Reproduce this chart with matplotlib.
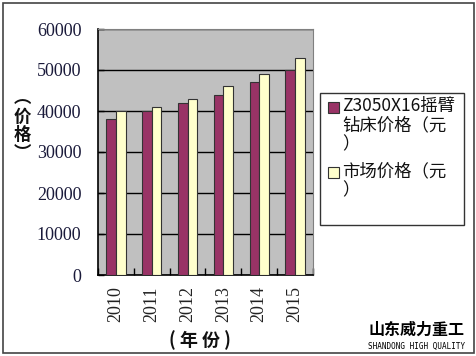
import matplotlib
matplotlib.use("Agg")
import matplotlib.pyplot as plt
import numpy as np
from matplotlib.patches import Rectangle

plt.rcParams['font.family'] = ['Noto Sans CJK SC', 'DejaVu Sans']

years = ['2010', '2011', '2012', '2013', '2014', '2015']
z3050_price = [38000, 40000, 42000, 44000, 47000, 50000]
market_price = [40000, 41000, 43000, 46000, 49000, 53000]
series_names = ['Z3050X16摇臂\n钻床价格（元\n）', '市场价格（元\n）']
series_colors = ['#993366', '#FFFFCC']
yticks = [0, 10000, 20000, 30000, 40000, 50000, 60000]

W, H = 477, 356
fig = plt.figure(figsize=(W / 100, H / 100), dpi=100)
fig.patch.set_facecolor('white')

ax = fig.add_axes([98 / W, 1 - 275 / H, 215 / W, 246 / H])
ax.set_facecolor('#C0C0C0')

x = np.arange(len(years))
bw = 0.27
ax.bar(x - bw / 2, z3050_price, bw, color=series_colors[0], edgecolor='#333333', linewidth=0.8, zorder=3)
ax.bar(x + bw / 2, market_price, bw, color=series_colors[1], edgecolor='#333333', linewidth=0.8, zorder=3)

ax.set_xlim(-0.5, len(years) - 0.5)
ax.set_ylim(0, 60000)
ax.set_yticks(yticks)
ax.set_yticklabels([str(v) for v in yticks], family='Liberation Serif', fontsize=13, color='#1a1a3a')
ax.set_xticks(x)
ax.set_xticklabels(years, rotation=90, family='Liberation Serif', fontsize=13, color='#222222')
ax.set_xticks(np.arange(-0.5, len(years)), minor=True)
ax.tick_params(axis='x', which='major', length=0, pad=8)
ax.tick_params(axis='x', which='minor', direction='in', length=5, color='black', width=1)
ax.tick_params(axis='y', direction='in', length=4, color='black', width=1, pad=12)
ax.yaxis.grid(True, color='black', linewidth=1, zorder=1)
ax.set_axisbelow(True)
for s in ['top', 'right']:
    ax.spines[s].set_color('#808080')
for s in ['left', 'bottom']:
    ax.spines[s].set_color('black')
    ax.spines[s].set_linewidth(1.2)

# y label (vertical)
fig.text(22 / W, 1 - 126 / H, '︵\n价\n格\n︶', ha='center', va='center', fontsize=12.5,
         fontweight='bold', linespacing=1.0, color='#111111')
# x label
fig.text(200 / W, 1 - 340 / H, '( 年 份 )', ha='center', va='center', fontsize=13,
         fontweight='bold', color='#111111')

# legend box
lx0, ly0, lx1, ly1 = 320, 93, 464, 225
fig.patches.append(Rectangle((lx0 / W, 1 - ly1 / H), (lx1 - lx0) / W, (ly1 - ly0) / H,
                             transform=fig.transFigure, facecolor='white', edgecolor='#333333',
                             linewidth=1.0))
entry_y = [107, 172]
for name, col, ey in zip(series_names, series_colors, entry_y):
    fig.patches.append(Rectangle((328 / W, 1 - (ey + 6) / H), 11 / W, 11 / H,
                                 transform=fig.transFigure, facecolor=col, edgecolor='#333333',
                                 linewidth=0.8))
    fig.text(342 / W, 1 - (ey - 10) / H, name, ha='left', va='top', fontsize=12.5,
             linespacing=1.1, color='#111111')

# logo
fig.text(417 / W, 1 - 330 / H, '山东威力重工', ha='center', va='center', fontsize=11.5,
         fontweight='heavy', color='black')
fig.text(417 / W, 1 - 346 / H, 'SHANDONG HIGH QUALITY', ha='center', va='center', fontsize=5.5,
         family='DejaVu Sans Mono', color='black')

# outer frame
fig.patches.append(Rectangle((3 / W, 3 / H), 471 / W, 350 / H, transform=fig.transFigure,
                             facecolor='none', edgecolor='#444444', linewidth=1.2))

fig.savefig('out.png', dpi=100)
